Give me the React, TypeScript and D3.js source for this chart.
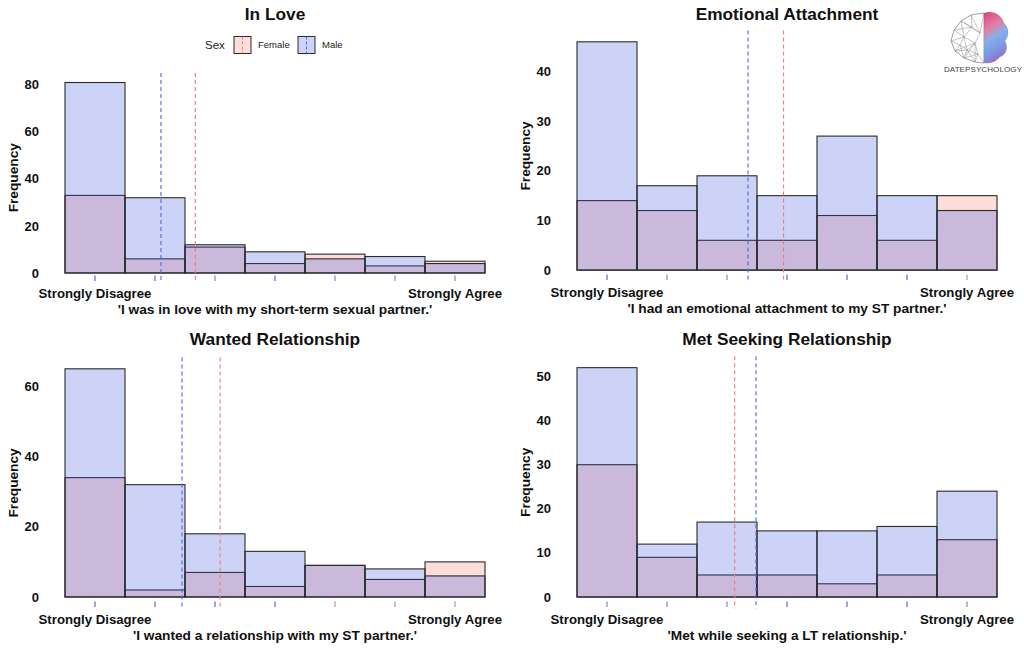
import React from "react";
import * as d3 from "d3";

const levels = [1, 2, 3, 4, 5, 6, 7];
const xTickLabels = ["Strongly Disagree", "", "", "", "", "", "Strongly Agree"];

const titles = ["In Love", "Emotional Attachment", "Wanted Relationship", "Met Seeking Relationship"];
const xTitles = [
  "'I was in love with my short-term sexual partner.'",
  "'I had an emotional attachment to my ST partner.'",
  "'I wanted a relationship with my ST partner.'",
  "'Met while seeking a LT relationship.'",
];

const inLoveFemale = [33, 6, 11, 4, 8, 3, 5];
const inLoveMale = [81, 32, 12, 9, 6, 7, 4];
const emotionalFemale = [14, 12, 6, 6, 11, 6, 15];
const emotionalMale = [46, 17, 19, 15, 27, 15, 12];
const wantedFemale = [34, 2, 7, 3, 9, 5, 10];
const wantedMale = [65, 32, 18, 13, 9, 8, 6];
const metFemale = [30, 9, 5, 5, 3, 5, 13];
const metMale = [52, 12, 17, 15, 15, 16, 24];

const yTicks1 = [0, 20, 40, 60, 80];
const yTicks2 = [0, 10, 20, 30, 40];
const yTicks3 = [0, 20, 40, 60];
const yTicks4 = [0, 10, 20, 30, 40, 50];

// rug colour class per level: m = mostly male, b = both, f = mostly female
const rug1 = ["m", "m", "b", "m", "b", "b", "b"];
const rug2 = ["m", "b", "b", "m", "m", "m", "f"];
const rug3 = ["m", "m", "m", "m", "f", "f", "f"];
const rug4 = ["b", "b", "b", "m", "m", "m", "b"];

const panelsData = [
  { female: inLoveFemale, male: inLoveMale, ticks: yTicks1, rug: rug1 },
  { female: emotionalFemale, male: emotionalMale, ticks: yTicks2, rug: rug2 },
  { female: wantedFemale, male: wantedMale, ticks: yTicks3, rug: rug3 },
  { female: metFemale, male: metMale, ticks: yTicks4, rug: rug4 },
];

const layout = [
  { left: 44, right: 506, top: 73, bottom: 282.5 },
  { left: 556, right: 1018, top: 30.4, bottom: 281.5 },
  { left: 44, right: 506, top: 357.4, bottom: 608.4 },
  { left: 556, right: 1018, top: 356.2, bottom: 608.5 },
];

const FONT = "'Liberation Sans', Arial, Helvetica, sans-serif";
const MALE_FILL = "rgb(55,79,219)";
const FEMALE_FILL = "rgb(245,80,80)";
const MALE_OP = 0.25;
const FEMALE_OP = 0.2;
const MALE_LINE = "#5466d8";
const FEMALE_LINE = "#ef7a7a";
const RUG_COL: Record<string, string> = { m: "#6d70d6", b: "#a584c8", f: "#c88ec0" };
const OUTLINE = "#2a2a2a";

function weightedMean(counts: number[]) {
  const total = d3.sum(counts);
  return d3.sum(counts.map((c, i) => c * levels[i])) / total;
}

function Panel({ idx }: { idx: number }) {
  const d = panelsData[idx];
  const L = layout[idx];
  const maxV = d3.max([...d.female, ...d.male]) as number;
  const x = d3.scaleLinear().domain([0.15, 7.85]).range([L.left, L.right]);
  const y = d3.scaleLinear().domain([-0.05 * maxV, 1.05 * maxV]).range([L.bottom, L.top]);
  const mMale = weightedMean(d.male);
  const mFemale = weightedMean(d.female);
  const cx = (L.left + L.right) / 2;
  const cy = (L.top + L.bottom) / 2;
  return (
    <g>
      {levels.map((lv, i) => (
        <rect
          key={"f" + i}
          x={x(lv - 0.5)}
          y={y(d.female[i])}
          width={x(lv + 0.5) - x(lv - 0.5)}
          height={y(0) - y(d.female[i])}
          fill={FEMALE_FILL}
          fillOpacity={FEMALE_OP}
          stroke={OUTLINE}
          strokeWidth={1.1}
        />
      ))}
      {levels.map((lv, i) => (
        <rect
          key={"m" + i}
          x={x(lv - 0.5)}
          y={y(d.male[i])}
          width={x(lv + 0.5) - x(lv - 0.5)}
          height={y(0) - y(d.male[i])}
          fill={MALE_FILL}
          fillOpacity={MALE_OP}
          stroke={OUTLINE}
          strokeWidth={1.1}
        />
      ))}
      {levels.map((lv, i) => (
        <line
          key={"r" + i}
          x1={x(lv)}
          x2={x(lv)}
          y1={L.bottom - 7}
          y2={L.bottom - 1.5}
          stroke={RUG_COL[d.rug[i]]}
          strokeWidth={1.3}
        />
      ))}
      <line x1={x(mFemale)} x2={x(mFemale)} y1={L.top} y2={L.bottom} stroke={FEMALE_LINE} strokeWidth={1.1} strokeDasharray="4,3" />
      <line x1={x(mMale)} x2={x(mMale)} y1={L.top} y2={L.bottom} stroke={MALE_LINE} strokeWidth={1.1} strokeDasharray="4,3" />
      {d.ticks.map((t) => (
        <text key={"yt" + t} x={L.left - 5} y={y(t)} dy="0.35em" textAnchor="end" fontFamily={FONT} fontWeight="bold" fontSize={13} fill="#111">
          {t}
        </text>
      ))}
      {levels.map((lv, i) =>
        xTickLabels[i] ? (
          <text key={"xt" + i} x={x(lv)} y={L.bottom + 15.5} textAnchor="middle" fontFamily={FONT} fontWeight="bold" fontSize={13.2} fill="#111">
            {xTickLabels[i]}
          </text>
        ) : null
      )}
      <text x={cx} y={L.bottom + 31.5} textAnchor="middle" fontFamily={FONT} fontWeight="bold" fontSize={13.7} fill="#111">
        {xTitles[idx]}
      </text>
      <text
        transform={`translate(${L.left - 26.5},${cy}) rotate(-90)`}
        textAnchor="middle"
        fontFamily={FONT}
        fontWeight="bold"
        fontSize={13.7}
        fill="#111"
      >
        Frequency
      </text>
      <text x={cx} y={idx < 2 ? 20 : 345} textAnchor="middle" fontFamily={FONT} fontWeight="bold" fontSize={17.3} fill="#111">
        {titles[idx]}
      </text>
    </g>
  );
}

function Legend() {
  const keys = [
    { label: "Female", fill: FEMALE_FILL, op: FEMALE_OP, line: FEMALE_LINE, x: 234 },
    { label: "Male", fill: MALE_FILL, op: MALE_OP, line: MALE_LINE, x: 298 },
  ];
  const cy = 45;
  return (
    <g>
      <text x={205} y={cy} dy="0.35em" fontFamily={FONT} fontSize={11.5} fill="#222">
        Sex
      </text>
      {keys.map((k) => (
        <g key={k.label}>
          <rect x={k.x} y={cy - 8.5} width={17} height={17} fill={k.fill} fillOpacity={k.op} stroke={OUTLINE} strokeWidth={1} />
          <line x1={k.x + 8.5} x2={k.x + 8.5} y1={cy - 8.5} y2={cy + 8.5} stroke={k.line} strokeWidth={1} strokeDasharray="3,2" />
          <text x={k.x + 24} y={cy} dy="0.35em" fontFamily={FONT} fontSize={9.5} fill="#222">
            {k.label}
          </text>
        </g>
      ))}
    </g>
  );
}

function Logo() {
  const mesh = [
    [984, 13], [971, 15], [961, 21], [954, 30], [951, 41], [955, 51], [964, 58], [975, 62], [984, 63],
  ];
  const inner = [
    [972, 27], [964, 37], [975, 43], [967, 50], [978, 54], [980, 33], [960, 45],
  ];
  const lines: React.ReactElement[] = [];
  inner.forEach((p, i) => {
    const dists = mesh.map((q, j) => ({ j, d: Math.hypot(p[0] - q[0], p[1] - q[1]) })).sort((a, b) => a.d - b.d);
    dists.slice(0, 3).forEach((o) => {
      lines.push(<line key={`a${i}-${o.j}`} x1={p[0]} y1={p[1]} x2={mesh[o.j][0]} y2={mesh[o.j][1]} stroke="#888" strokeWidth={0.5} />);
    });
    inner.forEach((q, j) => {
      if (j > i && Math.hypot(p[0] - q[0], p[1] - q[1]) < 14)
        lines.push(<line key={`b${i}-${j}`} x1={p[0]} y1={p[1]} x2={q[0]} y2={q[1]} stroke="#888" strokeWidth={0.5} />);
    });
  });
  return (
    <g>
      <defs>
        <linearGradient id="brainGrad" x1="0" y1="0" x2="0.3" y2="1">
          <stop offset="0" stopColor="#d2306a" />
          <stop offset="0.35" stopColor="#e0709a" />
          <stop offset="0.55" stopColor="#7aa6e6" />
          <stop offset="0.8" stopColor="#6d8ee0" />
          <stop offset="1" stopColor="#8a5fc0" />
        </linearGradient>
      </defs>
      <polygon points={mesh.map((p) => p.join(",")).join(" ")} fill="none" stroke="#777" strokeWidth={0.7} />
      {lines}
      <path
        d="M984,13 C993,10 1002,15 1004,23 C1010,28 1009,37 1005,41 C1009,47 1006,55 1000,57 C996,62 990,64 984,63 Z"
        fill="url(#brainGrad)"
        opacity={0.9}
      />
      <text x={983} y={72} textAnchor="middle" fontFamily={FONT} fontSize={8} fill="#444" letterSpacing="0.1">
        DATEPSYCHOLOGY
      </text>
    </g>
  );
}

export default function App() {
  return (
    <svg width={1024} height={651} style={{ position: "absolute", left: 0, top: 0, background: "#fff" }}>
      <rect x={0} y={0} width={1024} height={651} fill="#fff" />
      {[0, 1, 2, 3].map((i) => (
        <Panel key={i} idx={i} />
      ))}
      <Legend />
      <Logo />
    </svg>
  );
}
